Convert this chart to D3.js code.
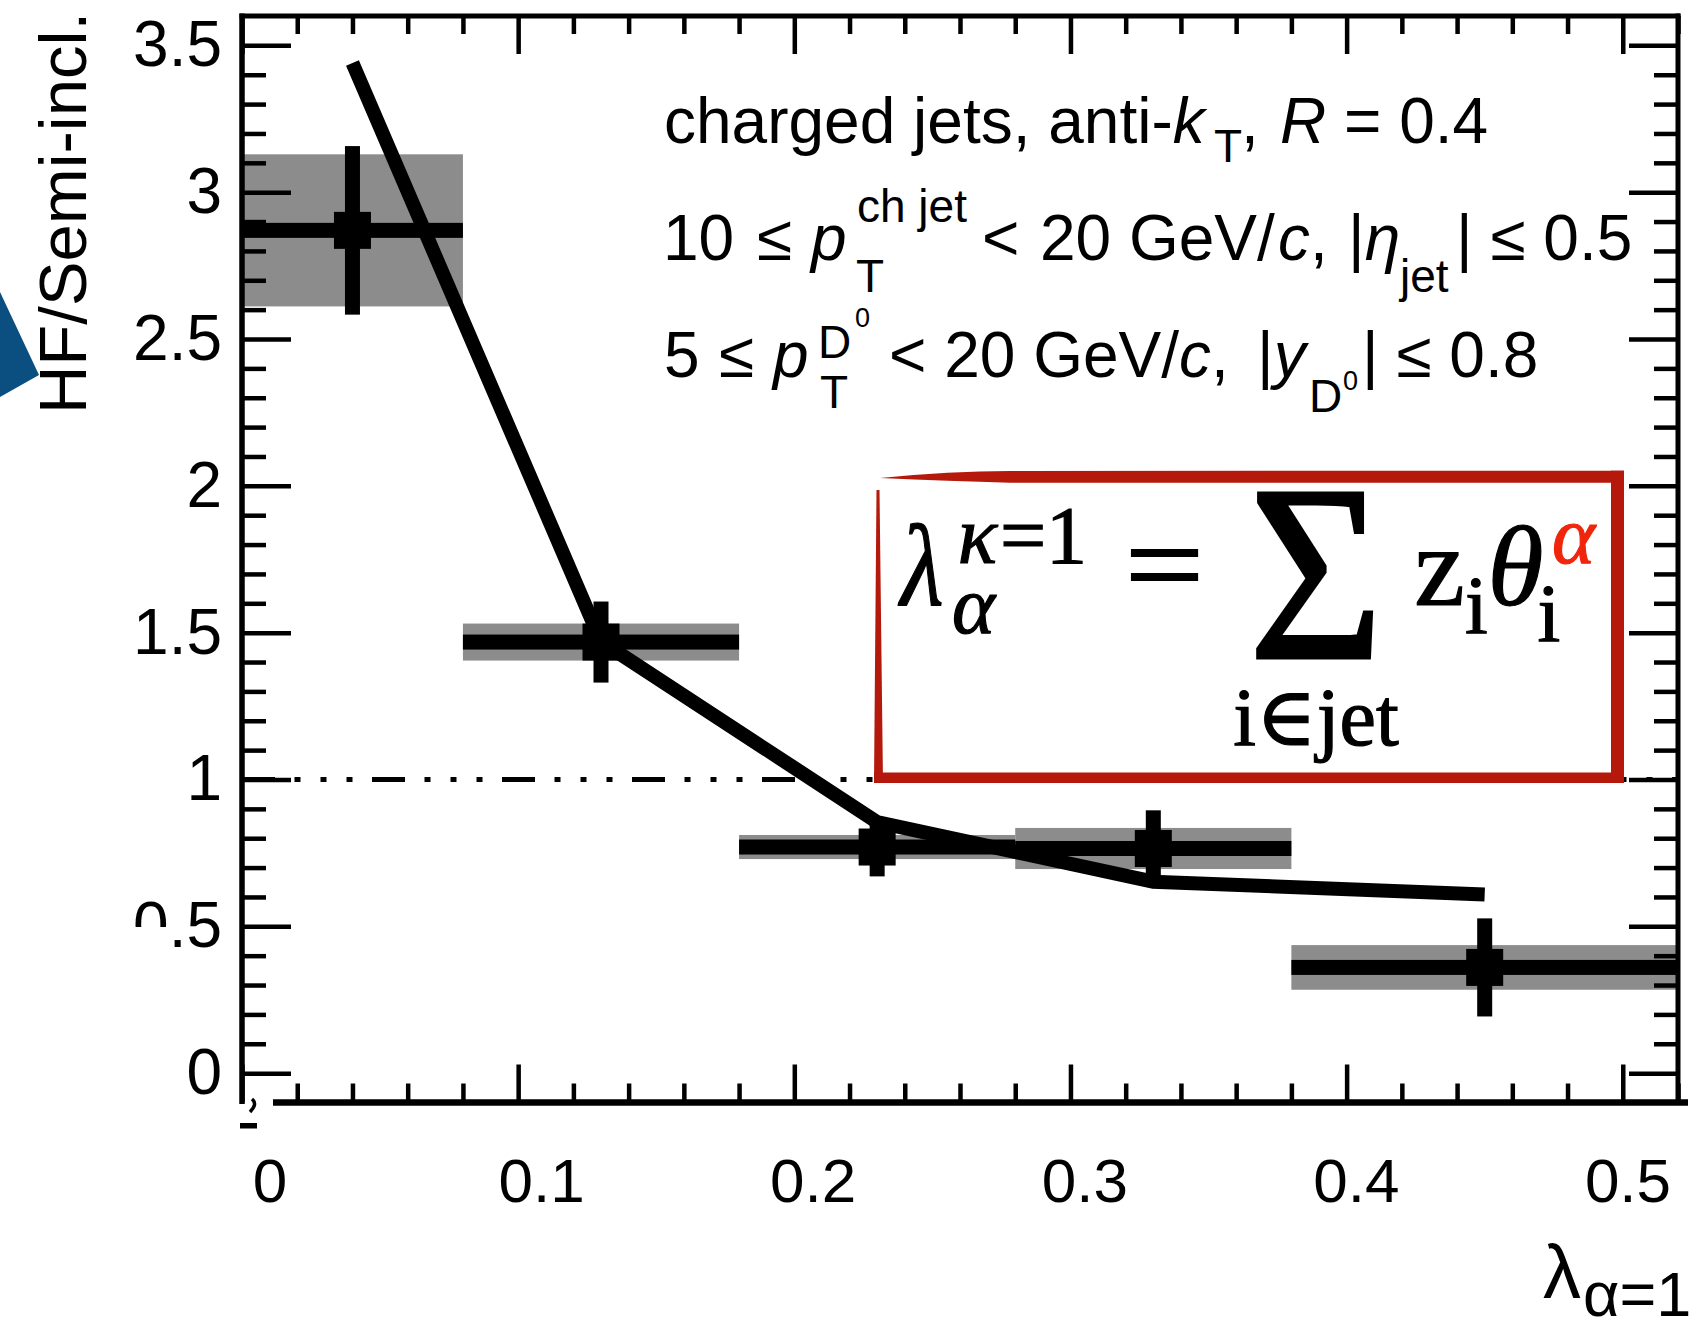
<!DOCTYPE html>
<html>
<head>
<meta charset="utf-8">
<script src="https://cdn.jsdelivr.net/npm/d3@7"></script>
<style>
    body { margin: 0; background: #fff; }
    svg { display: block; }
    text { font-family: "Liberation Sans", Arial, Helvetica, sans-serif; }
    .serif { font-family: "Liberation Serif", "Times New Roman", "DejaVu Serif", serif; }
    .axis line { stroke: #000; stroke-width: 4.5; }
    .axis .domain { display: none; }
</style>
</head>
<body>
<svg id="chart"></svg>
<script>
// lambda bins (x) and HF / semi-inclusive ratio
const binEdges = [0, 0.08, 0.18, 0.28, 0.38, 0.52]
const pointX = [0.04, 0.13, 0.23, 0.33, 0.45]
const ratio = [2.87, 1.468, 0.77, 0.765, 0.36]
const statErr = [0.287, 0.138, 0.10, 0.13, 0.167]
const systErr = [0.259, 0.063, 0.041, 0.070, 0.076]

// model curve
const modelX = [0.04, 0.13, 0.23, 0.33, 0.45]
const modelY = [3.44, 1.47, 0.855, 0.652, 0.608]

const xTickLabels = [0, 0.1, 0.2, 0.3, 0.4, 0.5]
const yTickLabels = [0, 0.5, 1, 1.5, 2, 2.5, 3, 3.5]

const W = 1690, H = 1327
const frame = { left: 242, right: 1678, top: 16, bottom: 1102.5 }

const svg = d3.select('#chart').attr('width', W).attr('height', H)

const x = d3.scaleLinear().domain([0, 0.52]).range([frame.left, frame.right])
const y = d3.scaleLinear().domain([-0.1, 3.6]).range([frame.bottom, frame.top])
// the tick labels under the plot sit slightly off the tick marks in the original
const xLabelPos = d3.scaleLinear().domain([0, 0.5]).range([270, 1628])

const round = v => Math.round(v * 1000) / 1000
const xMinor = d3.range(0, 27).map(i => round(i * 0.02)).filter(v => !xTickLabels.includes(v))
const yMinor = d3.range(0, 36).map(i => round(i * 0.1)).filter(v => !yTickLabels.includes(v))

// slide decoration on the left edge
svg.append('path')
    .attr('d', 'M0,292 L39,375 L0,397 Z')
    .attr('fill', '#0b4f80')

// reference line at 1
svg.append('line')
    .attr('x1', x(0)).attr('x2', x(0.52))
    .attr('y1', y(1)).attr('y2', y(1))
    .attr('stroke', '#000').attr('stroke-width', 5)
    .attr('stroke-dasharray', '33 19.5 6 20 6 20 6 19.5')

// systematic boxes
svg.append('g').selectAll('rect')
    .data(pointX)
    .join('rect')
    .attr('x', (d, i) => x(binEdges[i]))
    .attr('width', (d, i) => x(binEdges[i + 1]) - x(binEdges[i]))
    .attr('y', (d, i) => y(ratio[i] + systErr[i]))
    .attr('height', (d, i) => y(ratio[i] - systErr[i]) - y(ratio[i] + systErr[i]))
    .attr('fill', '#8c8c8c')

// model line
const line = d3.line()
    .x((d, i) => x(modelX[i]))
    .y(d => y(d))
svg.append('path')
    .datum(modelY)
    .attr('d', line)
    .attr('fill', 'none')
    .attr('stroke', '#000')
    .attr('stroke-width', 14)
    .attr('stroke-linejoin', 'miter')

// data: horizontal bin bars, stat bars, markers
const pts = svg.append('g')
pts.selectAll('rect.hbar')
    .data(pointX)
    .join('rect')
    .classed('hbar', true)
    .attr('x', (d, i) => x(binEdges[i]))
    .attr('width', (d, i) => x(binEdges[i + 1]) - x(binEdges[i]))
    .attr('y', (d, i) => y(ratio[i]) - 7.5)
    .attr('height', 15)
pts.selectAll('rect.vbar')
    .data(pointX)
    .join('rect')
    .classed('vbar', true)
    .attr('x', d => x(d) - 7.5)
    .attr('width', 15)
    .attr('y', (d, i) => y(ratio[i] + statErr[i]))
    .attr('height', (d, i) => y(ratio[i] - statErr[i]) - y(ratio[i] + statErr[i]))
pts.selectAll('rect.marker')
    .data(pointX)
    .join('rect')
    .classed('marker', true)
    .attr('x', d => x(d) - 18.5)
    .attr('y', (d, i) => y(ratio[i]) - 18.5)
    .attr('width', 37).attr('height', 37)

// axes (ticks only, frame drawn separately)
function axisGroup(axis, tx, ty) {
    return svg.append('g').classed('axis', true)
        .attr('transform', `translate(${tx},${ty})`)
        .call(axis)
}
const fmt = d3.format('')
axisGroup(d3.axisLeft(y).tickValues(yTickLabels).tickSize(-49).tickPadding(20).tickFormat(fmt), frame.left, 0)
axisGroup(d3.axisLeft(y).tickValues(yMinor).tickSize(-24).tickFormat(''), frame.left, 0)
axisGroup(d3.axisRight(y).tickValues(yTickLabels).tickSize(-49).tickFormat(''), frame.right, 0)
axisGroup(d3.axisRight(y).tickValues(yMinor).tickSize(-24).tickFormat(''), frame.right, 0)
axisGroup(d3.axisTop(x).tickValues(xTickLabels).tickSize(-38).tickFormat(''), 0, frame.top)
axisGroup(d3.axisTop(x).tickValues(xMinor).tickSize(-18).tickFormat(''), 0, frame.top)
axisGroup(d3.axisBottom(x).tickValues(xTickLabels).tickSize(-38).tickFormat(''), 0, frame.bottom)
axisGroup(d3.axisBottom(x).tickValues(xMinor).tickSize(-19).tickFormat(''), 0, frame.bottom)
svg.selectAll('.axis text')
    .attr('font-size', 64)
    .attr('fill', '#000')
    .style('font-family', '"Liberation Sans", Arial, sans-serif')

svg.append('g').selectAll('text')
    .data(xTickLabels)
    .join('text')
    .attr('x', d => xLabelPos(d))
    .attr('y', 1202)
    .attr('text-anchor', 'middle')
    .attr('font-size', 62)
    .text(fmt)

// frame
const frameG = svg.append('g').attr('stroke', '#000').attr('fill', 'none')
frameG.append('line').attr('x1', frame.left - 2.5).attr('x2', frame.right + 2.5)
    .attr('y1', frame.top).attr('y2', frame.top).attr('stroke-width', 5)
frameG.append('line').attr('x1', frame.left).attr('x2', frame.left)
    .attr('y1', frame.top - 2.5).attr('y2', frame.bottom + 1.5).attr('stroke-width', 5.5)
frameG.append('line').attr('x1', frame.right).attr('x2', frame.right)
    .attr('y1', frame.top - 2.5).attr('y2', frame.bottom).attr('stroke-width', 5)
frameG.append('line').attr('x1', 273).attr('x2', 1688)
    .attr('y1', frame.bottom).attr('y2', frame.bottom).attr('stroke-width', 6.5)
// leftovers of the pasted figure at the lower left corner
svg.append('rect').attr('x', 240).attr('y', 1123).attr('width', 17).attr('height', 5.5).attr('fill', '#000')
svg.append('path').attr('d', 'M252,1099 Q258,1104 250,1112').attr('stroke', '#000').attr('stroke-width', 3.5).attr('fill', 'none')
svg.append('rect').attr('x', 130).attr('y', 927).attr('width', 42).attr('height', 28).attr('fill', '#fff')

// axis titles
svg.append('text')
    .attr('transform', 'translate(86,213) rotate(-90)')
    .attr('text-anchor', 'middle')
    .attr('font-size', 67)
    .text('HF/Semi-incl.')

const xTitle = svg.append('text').attr('x', 1543).attr('y', 1298)
xTitle.append('tspan').attr('font-size', 76).text('λ')
xTitle.append('tspan').attr('font-size', 63).attr('y', 1316).attr('dx', 2).text('α=1')

// rich text: each piece sits at an absolute x or follows the previous one
function richLine(g, y0, segs) {
    let cx = 0
    segs.forEach(s => {
        const start = s.x != null ? s.x : cx
        const t = g.append('text')
            .attr('x', start)
            .attr('y', y0 + (s.dy || 0))
            .attr('font-size', s.size || 64)
            .attr('font-style', s.it ? 'italic' : null)
            .style('white-space', 'pre')
            .text(s.t)
        cx = start + t.node().getComputedTextLength()
    })
}

const info = svg.append('g')
richLine(info, 142.7, [
    { t: 'charged jets, anti-', x: 664 },
    { t: 'k', it: 1 },
    { t: 'T', size: 46, dy: 19, x: 1214 },
    { t: ', ', x: 1241 },
    { t: 'R', it: 1, x: 1280 },
    { t: ' = 0.4' },
])
richLine(info, 260, [
    { t: '10', x: 663 },
    { t: '≤', x: 757 },
    { t: 'p', it: 1, x: 811 },
    { t: 'ch jet', size: 46, dy: -38, x: 857 },
    { t: 'T', size: 46, dy: 31.7, x: 856 },
    { t: '<', x: 982 },
    { t: '20 GeV/', x: 1040 },
    { t: 'c', it: 1, x: 1278 },
    { t: ',' },
    { t: '|', x: 1348 },
    { t: 'η', it: 1 },
    { t: 'jet', size: 46, dy: 31.7, x: 1400 },
    { t: '| ≤ 0.5', x: 1456 },
])
richLine(info, 376.7, [
    { t: '5', x: 664 },
    { t: '≤', x: 719 },
    { t: 'p', it: 1, x: 773 },
    { t: 'D', size: 46, dy: -18.4, x: 818 },
    { t: '0', size: 27, dy: -50, x: 855 },
    { t: 'T', size: 46, dy: 31.7, x: 820 },
    { t: '< 20 GeV/', x: 889 },
    { t: 'c', it: 1 },
    { t: ', ' },
    { t: '|', x: 1257 },
    { t: 'y', it: 1 },
    { t: 'D', size: 46, dy: 35, x: 1309 },
    { t: '0', size: 27, dy: 13.3, x: 1343 },
    { t: '| ≤ 0.8', x: 1362 },
])

// boxed formula
const box = svg.append('g')
box.append('rect').attr('x', 878).attr('y', 476).attr('width', 740).attr('height', 301).attr('fill', '#fff')
const red = '#b5190b'
box.append('path').attr('fill', red)
    .attr('d', 'M880,478 Q950,471 1010,471 L1624,470.7 L1624,482.7 L1010,482.7 Q950,481 880,478 Z')
box.append('path').attr('fill', red).attr('d', 'M876.5,490 L879.5,490 L883,783 L874,783 Z')
box.append('rect').attr('fill', red).attr('x', 1611).attr('y', 470.7).attr('width', 13).attr('height', 312.3)
box.append('rect').attr('fill', red).attr('x', 874).attr('y', 772.5).attr('width', 750).attr('height', 10.5)

const eq = box.append('g').attr('text-anchor', 'middle')
const eqText = (t, cx, by, size, it, color) => eq.append('text')
    .attr('class', 'serif')
    .attr('x', cx).attr('y', by)
    .attr('font-size', size)
    .attr('font-style', it ? 'italic' : null)
    .style('fill', color || '#000')
    .style('stroke', color || '#000')
    .style('stroke-width', 1.2)
    .text(t)
eqText('λ', 0, 0, 116, 1).attr('transform', 'translate(922,605) scale(0.86,1)')
eqText('κ', 977.5, 563, 82, 1)
eqText('=1', 1043.5, 563, 82)
eqText('α', 973.5, 633, 82, 1)
eqText('=', 0, 0, 114).attr('transform', 'translate(1164.5,605) scale(1.22,1.05)').style('stroke-width', 2)
eqText('Σ', 0, 0, 252).attr('transform', 'translate(1316,658) scale(0.92,1)').style('stroke-width', 3)
eqText('i∈jet', 1316, 745, 82)
eqText('z', 1439.5, 605, 114)
eqText('i', 1476.5, 633, 82)
eqText('θ', 1515.5, 605, 114, 1)
eqText('α', 1573.5, 563, 82, 1, '#f0260c')
eqText('i', 1549, 641, 82)
</script>
</body>
</html>
